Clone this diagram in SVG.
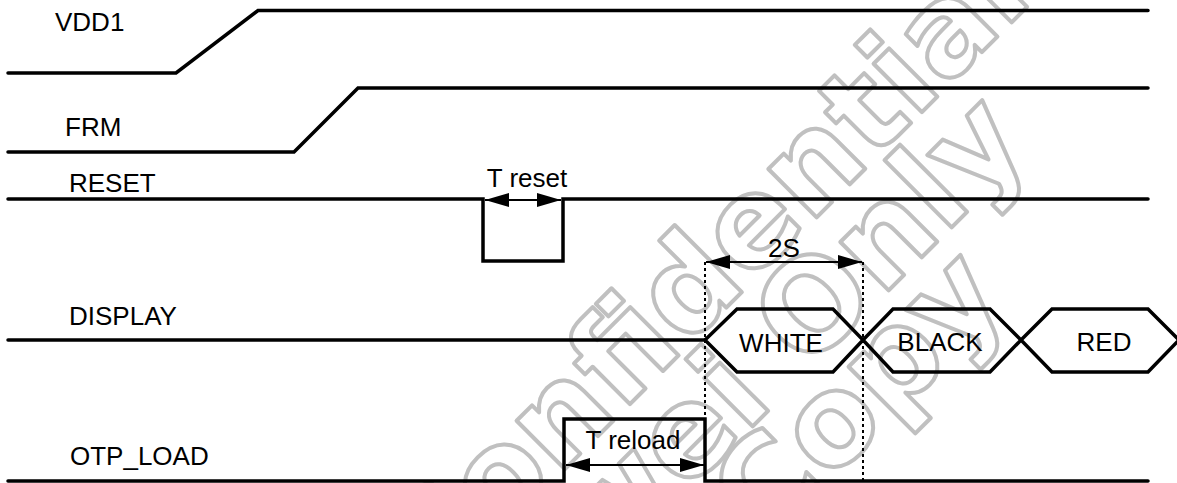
<svg xmlns="http://www.w3.org/2000/svg" width="1177" height="483" viewBox="0 0 1177 483">
<defs>
<style>
.sig{fill:none;stroke:#000;stroke-width:3.5;stroke-linecap:round;stroke-linejoin:miter}
.lbl{font-family:"Liberation Sans",Arial,sans-serif;font-size:26px;fill:#000}
.mid{text-anchor:middle}
.dim{fill:none;stroke:#000;stroke-width:2}
.dash{fill:none;stroke:#000;stroke-width:2;stroke-dasharray:3 3}
.wm{font-family:"DejaVu Sans",Verdana,sans-serif;font-weight:bold;font-size:125px;fill:none;stroke:#c0c0c0;stroke-width:4;stroke-linejoin:round}
</style>
<marker id="ah" viewBox="0 0 24 14" refX="24" refY="7" markerWidth="24" markerHeight="14" markerUnits="userSpaceOnUse" orient="auto-start-reverse">
<path d="M0,0 L24,7 L0,14 z" fill="#000"/>
</marker>
</defs>
<rect width="1177" height="483" fill="#fff"/>
<g id="watermark">
<text class="wm" transform="translate(432,602) rotate(-45)">Confidential</text>
<text class="wm" transform="translate(407,772) rotate(-45)">Huawei Only</text>
<text class="wm" transform="translate(764,548) rotate(-45)">Copy</text>
</g>
<g id="vdd1">
<text class="lbl" x="55" y="31">VDD1</text>
<path class="sig" d="M8,73 H176 L258,10.5 H1148"/>
</g>
<g id="frm">
<text class="lbl" x="65" y="136">FRM</text>
<path class="sig" d="M8,152 H294 L358,88 H1148"/>
</g>
<g id="reset">
<text class="lbl" x="69" y="192">RESET</text>
<path class="sig" d="M8,199 H483 V261 H563 V199 H1148"/>
<text class="lbl mid" x="527" y="187">T reset</text>
</g>
<g id="display">
<text class="lbl" x="69" y="325">DISPLAY</text>
<path class="sig" d="M8,340 H705"/>
</g>
<g id="white">
<path class="sig" d="M705,340 L737,309 H833 L863,340 L833,372 H737 Z"/>
<text class="lbl mid" x="781" y="352">WHITE</text>
</g>
<g id="black">
<path class="sig" d="M863,340 L893,309 H990 L1021,340 L990,372 H893 Z"/>
<text class="lbl mid" x="940" y="351">BLACK</text>
</g>
<g id="red">
<path class="sig" d="M1021,340 L1052,309 H1148 L1179,340 L1148,372 H1052 Z"/>
<text class="lbl mid" x="1104" y="351">RED</text>
</g>
<g id="otp_load">
<text class="lbl" x="70" y="465">OTP_LOAD</text>
<path class="sig" d="M8,481 H564 V419 H705 V481 H1148"/>
<text class="lbl mid" x="633" y="449">T reload</text>
</g>
<g id="connectors">
<line class="dash" x1="705" y1="262" x2="705" y2="483"/>
<line class="dash" x1="863" y1="262" x2="863" y2="483"/>
<line class="dim" x1="485" y1="200" x2="561" y2="200" marker-start="url(#ah)" marker-end="url(#ah)"/>
<line class="dim" x1="706" y1="262" x2="862" y2="262" marker-start="url(#ah)" marker-end="url(#ah)"/>
<text class="lbl mid" x="784" y="257">2S</text>
<line class="dim" x1="566" y1="465" x2="704" y2="465" marker-start="url(#ah)" marker-end="url(#ah)"/>
</g>
</svg>
